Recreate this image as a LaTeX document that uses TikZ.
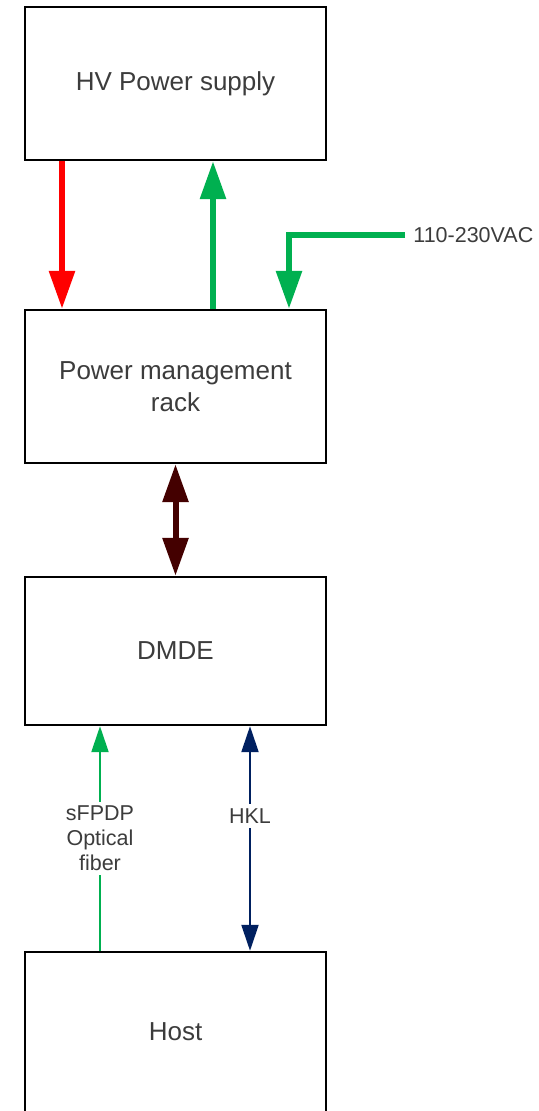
\documentclass[tikz,border=0pt]{standalone}
\usepackage{fontspec}
\setmainfont{Liberation Sans}
\usetikzlibrary{arrows.meta}
\definecolor{vgreen}{RGB}{0,176,80}
\definecolor{vred}{RGB}{255,0,0}
\definecolor{vbrown}{RGB}{68,0,0}
\definecolor{vnavy}{RGB}{0,32,96}
\definecolor{vtext}{RGB}{60,60,60}
\begin{document}
\begin{tikzpicture}[x=0.5pt, y=-0.5pt,
			block/.style={draw, line width=1.2pt, minimum width=150.5pt, minimum height=#1, inner sep=0pt, align=center, text=vtext, font=\fontsize{13}{16}\selectfont},
			block/.default=76.5pt,
			fat/.style={line width=3pt},
			thin/.style={line width=1.1pt},
			bigtip/.tip={Triangle[length=19pt, width=12.5pt]},
			smalltip/.tip={Triangle[length=13pt, width=8.5pt]},
			lbl/.style={text=vtext, font=\fontsize{10.75}{12.6}\selectfont, align=center},
			]
			%Bildbereich
			\useasboundingbox (0,0) rectangle (538,1111);
			%Kaesten zeichnen
			\node[block] (hv) at (175.5,83.5) {HV Power supply};
			\node[block] (pmr) at (175.5,386.5) {Power management\\rack};
			\node[block=74pt] (dmde) at (175.5,651) {DMDE};
			\node[block=80pt] (host) at (175.5,1032) {Host};
			%Versorgung
			\draw[fat, vred, -bigtip] ([xshift=-56.75pt]hv.south) -- ([xshift=-56.75pt]pmr.north);
			\draw[fat, vgreen, -bigtip] ([xshift=18.75pt]pmr.north) -- ([xshift=18.75pt]hv.south);
			\node[lbl, anchor=west, inner sep=4pt] (vac) at (405,235) {110-230VAC};
			\draw[fat, vgreen, -bigtip] (vac.west) -| ([xshift=56.75pt]pmr.north);
			\draw[fat, vbrown, bigtip-bigtip] (pmr.south) -- (dmde.north);
			%Datenverbindungen
			\draw[thin, vgreen, -smalltip] ([xshift=-37.75pt]host.north) -- ([xshift=-37.75pt]dmde.south)
				node[lbl, midway, fill=white, inner sep=2pt] (fpdp) {sFPDP\\Optical\\fiber};
			\draw[thin, vnavy, smalltip-smalltip] ([xshift=37.25pt]dmde.south) -- ([xshift=37.25pt]host.north)
				node[lbl, pos=0.4, fill=white, inner sep=2.5pt] (hkl) {HKL};
		\end{tikzpicture}
\end{document}
